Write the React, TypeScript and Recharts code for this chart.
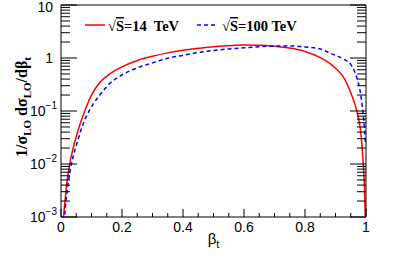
import React from 'react';
import { LineChart, Line, XAxis, YAxis, Legend } from 'recharts';

// ---- data ----
const redX = [0.007, 0.01, 0.015, 0.02, 0.03, 0.04, 0.05, 0.07, 0.1, 0.13, 0.16, 0.2, 0.25, 0.3, 0.35, 0.4, 0.45, 0.5, 0.55, 0.6, 0.65, 0.7, 0.75, 0.8, 0.85, 0.88, 0.9, 0.93, 0.95, 0.97, 0.98, 0.985, 0.99, 0.995, 0.998];
const redY = [0.0008, 0.0013, 0.0026, 0.0048, 0.011, 0.02, 0.033, 0.075, 0.2, 0.36, 0.5, 0.68, 0.9, 1.08, 1.25, 1.4, 1.52, 1.63, 1.7, 1.75, 1.74, 1.67, 1.54, 1.33, 1.02, 0.8, 0.64, 0.4, 0.22, 0.1, 0.052, 0.03, 0.012, 0.0035, 0.0008];

const blueX = [0.01, 0.012, 0.015, 0.02, 0.03, 0.04, 0.05, 0.07, 0.1, 0.13, 0.16, 0.2, 0.25, 0.3, 0.35, 0.4, 0.45, 0.5, 0.55, 0.6, 0.65, 0.7, 0.75, 0.8, 0.85, 0.88, 0.9, 0.93, 0.95, 0.97, 0.98, 0.99, 0.995, 0.998];
const blueY = [0.0006, 0.001, 0.0017, 0.003, 0.0075, 0.014, 0.022, 0.052, 0.12, 0.21, 0.33, 0.48, 0.65, 0.81, 0.99, 1.12, 1.27, 1.39, 1.48, 1.56, 1.63, 1.68, 1.69, 1.62, 1.48, 1.25, 1.12, 0.93, 0.76, 0.42, 0.25, 0.095, 0.045, 0.025];

const xTicks = [0, 0.05, 0.1, 0.15, 0.2, 0.25, 0.3, 0.35, 0.4, 0.45, 0.5, 0.55, 0.6, 0.65, 0.7, 0.75, 0.8, 0.85, 0.9, 0.95, 1];
const xMajor = [0, 0.2, 0.4, 0.6, 0.8, 1];
const xTickLabels = ['0', '0.2', '0.4', '0.6', '0.8', '1'];

const yMajor = [0.001, 0.01, 0.1, 1, 10];
const yTickBase = ['10', '10', '10', '1', '10'];
const yTickExp = ['\u22123', '\u22122', '\u22121', '', ''];
const yTicks = [
  0.001, 0.002, 0.003, 0.004, 0.005, 0.006, 0.007, 0.008, 0.009,
  0.01, 0.02, 0.03, 0.04, 0.05, 0.06, 0.07, 0.08, 0.09,
  0.1, 0.2, 0.3, 0.4, 0.5, 0.6, 0.7, 0.8, 0.9,
  1, 2, 3, 4, 5, 6, 7, 8, 9,
  10,
];

const seriesNames = ['14', '100'];

const redData = redX.map((x, i) => ({ x, v: redY[i] }));
const blueData = blueX.map((x, i) => ({ x, v: blueY[i] }));

// ---- layout / styles ----
const CHART_W = 407;
const CHART_H = 256;
const MARGIN = { top: 4, right: 40, left: 0, bottom: 0 };
const Y_AXIS_W = 61;
const R_AXIS_W = 1;
const X_AXIS_H = 39;
const TOP_AXIS_H = 1;
const PLOT_W = CHART_W - MARGIN.left - MARGIN.right - Y_AXIS_W - R_AXIS_W;
const PLOT_H = CHART_H - MARGIN.top - MARGIN.bottom - X_AXIS_H - TOP_AXIS_H;

const TICK_COLOR = '#000';
const Y_MARGIN = 4;
const X_MARGIN = 5;

const majorIndex = (arr: number[], v: number) => arr.findIndex((a) => Math.abs(a - v) < 1e-9 * Math.max(1, a));

// labels only on the left axis
const YTickLeft = (props: any) => {
  const x = Number(props.x);
  const y = Number(props.y);
  const idx = majorIndex(yMajor, props.payload.value);
  if (idx < 0) return <g />;
  const exp = yTickExp[idx];
  return (
    <g>
      <text
        x={exp ? x : x - 4}
        y={y}
        dy={idx === yMajor.length - 1 ? 7 : 5}
        textAnchor="end"
        fontFamily="Liberation Sans, Arial, sans-serif"
        fontSize={14}
        fill="#000"
      >
        {yTickBase[idx]}
        {exp ? (
          <tspan fontSize={10} dy={-7}>
            {exp}
          </tspan>
        ) : null}
      </text>
    </g>
  );
};

// right axis draws inward ticks on both right and left frame edges
const YTickRight = (props: any) => {
  const x = Number(props.x);
  const y = Number(props.y);
  const idx = majorIndex(yMajor, props.payload.value);
  const len = idx >= 0 ? 16 : 9;
  const lx = x - PLOT_W;
  return (
    <g>
      <line x1={x} x2={x - len} y1={y} y2={y} stroke={TICK_COLOR} strokeWidth={1} />
      <line x1={lx} x2={lx + len} y1={y} y2={y} stroke={TICK_COLOR} strokeWidth={1} />
    </g>
  );
};

// labels only on the bottom axis
const XTick = (props: any) => {
  const x = Number(props.x);
  const y = Number(props.y);
  const idx = majorIndex(xMajor, props.payload.value);
  if (idx < 0) return <g />;
  return (
    <g>
      <text x={x} y={y} dy={10} textAnchor="middle" fontFamily="Liberation Sans, Arial, sans-serif" fontSize={14} fill="#000">
        {xTickLabels[idx]}
      </text>
    </g>
  );
};

// top axis draws the inward ticks on the bottom frame edge
const XTickTop = (props: any) => {
  const x = Number(props.x);
  const y = Number(props.y);
  const idx = majorIndex(xMajor, props.payload.value);
  const len = idx >= 0 ? 8 : 4;
  const by = y + PLOT_H;
  return (
    <g>
      <line x1={x} x2={x} y1={by} y2={by - len} stroke={TICK_COLOR} strokeWidth={1} />
    </g>
  );
};

const renderXLabel = (props: any) => {
  const vb = props.viewBox;
  const cx = vb.x + vb.width / 2;
  const cy = vb.y + 27;
  return (
    <text x={cx} y={cy} textAnchor="middle" fontFamily="Liberation Sans, Arial, sans-serif" fontSize={15} fill="#000">
      β<tspan fontSize={11} dy={4}>t</tspan>
    </text>
  );
};

const renderYLabel = (props: any) => {
  const vb = props.viewBox;
  const cx = 22;
  const cy = vb.y + vb.height / 2 - 4;
  return (
    <text
      transform={`rotate(-90 ${cx} ${cy})`}
      x={cx}
      y={cy}
      dy={5}
      textAnchor="middle"
      fontFamily="Liberation Serif, Times New Roman, serif"
      fontWeight="bold"
      fontSize={16}
      fill="#000"
    >
      1/σ<tspan fontSize={11} dy={4}>LO</tspan>
      <tspan dy={-4}> dσ</tspan>
      <tspan fontSize={11} dy={4}>LO</tspan>
      <tspan dy={-4}>/dβ</tspan>
      <tspan fontSize={11} dy={4}>t</tspan>
    </text>
  );
};

const LegendContent = () => (
  <svg width={320} height={40} style={{ display: 'block' }}>
    <line x1={85} x2={105} y1={25} y2={25} stroke="#ff0000" strokeWidth={1.5} />
    <text x={108} y={31} fontFamily="Liberation Serif, Times New Roman, serif" fontWeight="bold" fontSize={14.5} fill="#000" style={{ whiteSpace: 'pre' }}>
      √<tspan textDecoration="overline">S</tspan>={seriesNames[0]}  TeV
    </text>
    <line x1={197} x2={216} y1={25} y2={25} stroke="#0000ff" strokeWidth={1.5} strokeDasharray="4 3" />
    <text x={222} y={31} fontFamily="Liberation Serif, Times New Roman, serif" fontWeight="bold" fontSize={14.5} fill="#000" style={{ whiteSpace: 'pre' }}>
      √<tspan textDecoration="overline">S</tspan>={seriesNames[1]} TeV
    </text>
  </svg>
);

export default function App() {
  return (
    <div style={{ position: 'absolute', left: 0, top: 0 }}>
      <LineChart width={CHART_W} height={CHART_H} margin={MARGIN}>
        <XAxis
          xAxisId="x"
          dataKey="x"
          type="number"
          domain={[0, 1]}
          allowDataOverflow
          ticks={xTicks}
          interval={0}
          tickSize={0}
          tickMargin={X_MARGIN}
          tickLine={false}
          tick={(p: any) => <XTick {...p} />}
          height={X_AXIS_H}
          stroke="#000"
          label={renderXLabel}
        />
        <XAxis
          xAxisId="top"
          orientation="top"
          dataKey="x"
          type="number"
          domain={[0, 1]}
          allowDataOverflow
          ticks={xTicks}
          interval={0}
          tickSize={0}
          tickMargin={0}
          tickLine={false}
          tick={(p: any) => <XTickTop {...p} />}
          height={TOP_AXIS_H}
          stroke="#000"
        />
        <YAxis
          yAxisId="y"
          scale="log"
          type="number"
          domain={[0.001, 10]}
          allowDataOverflow
          ticks={yTicks}
          interval={0}
          tickSize={0}
          tickMargin={Y_MARGIN}
          tickLine={false}
          tick={(p: any) => <YTickLeft {...p} />}
          width={Y_AXIS_W}
          stroke="#000"
          label={renderYLabel}
        />
        <YAxis
          yAxisId="yR"
          orientation="right"
          scale="log"
          type="number"
          domain={[0.001, 10]}
          allowDataOverflow
          ticks={yTicks}
          interval={0}
          tickSize={0}
          tickMargin={0}
          tickLine={false}
          tick={(p: any) => <YTickRight {...p} />}
          width={R_AXIS_W}
          stroke="#000"
        />
        <Legend
          layout="horizontal"
          verticalAlign="middle"
          align="center"
          wrapperStyle={{ position: 'absolute', left: 0, top: 0, width: 320, height: 40 }}
          content={<LegendContent />}
        />
        <Line
          xAxisId="x"
          yAxisId="y"
          data={redData}
          dataKey="v"
          type="monotone"
          stroke="#ff0000"
          strokeWidth={1.5}
          dot={false}
          isAnimationActive={false}
        />
        <Line
          xAxisId="x"
          yAxisId="y"
          data={blueData}
          dataKey="v"
          type="monotone"
          stroke="#0000ff"
          strokeWidth={1.5}
          strokeDasharray="4 3"
          dot={false}
          isAnimationActive={false}
        />
      </LineChart>
    </div>
  );
}
